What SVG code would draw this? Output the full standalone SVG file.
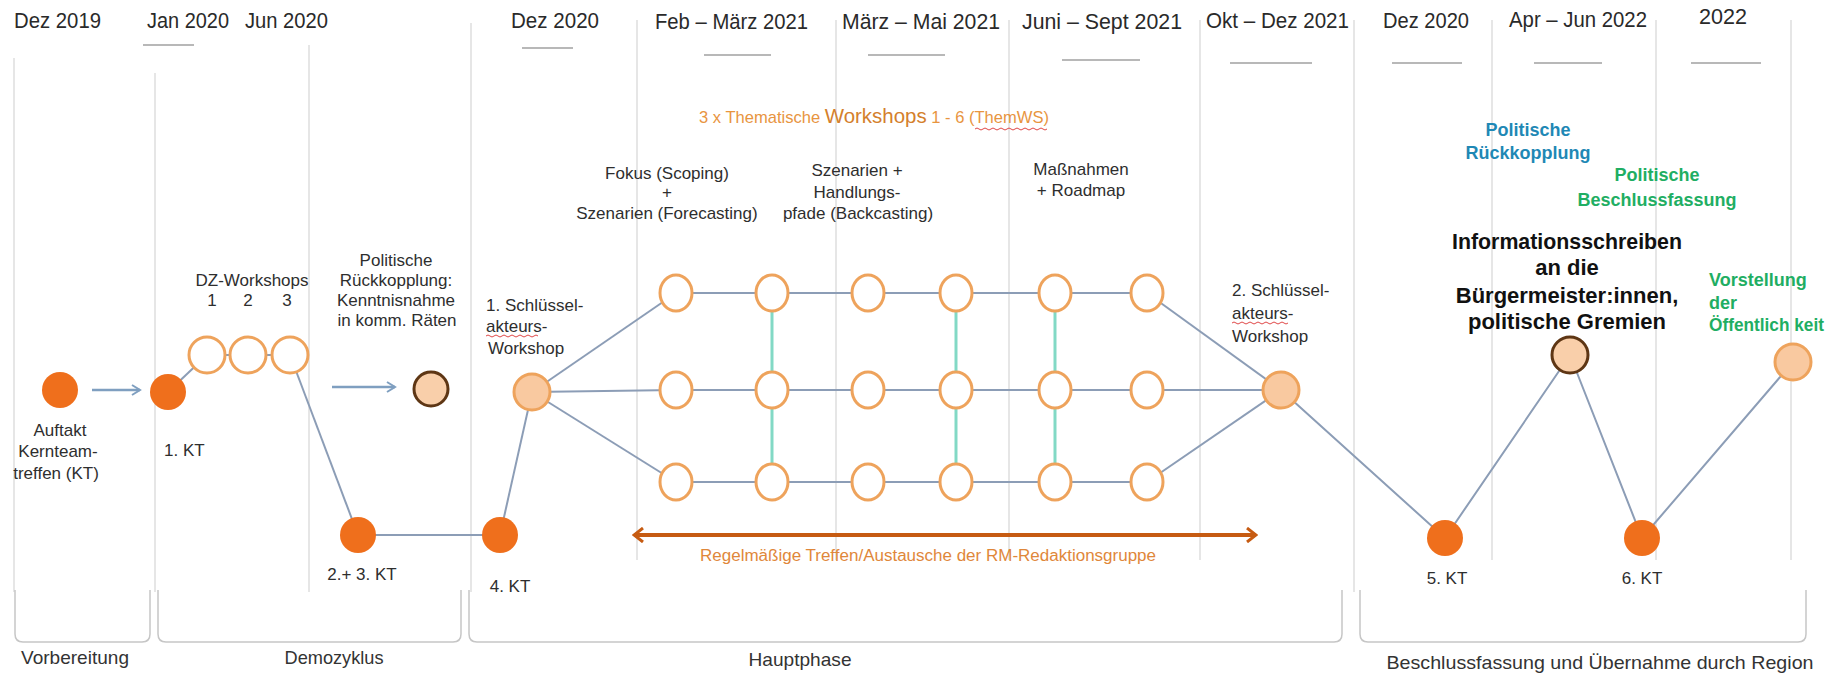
<svg xmlns="http://www.w3.org/2000/svg" width="1831" height="673" viewBox="0 0 1831 673">
  <defs>
    <style>
      text { font-family: "Liberation Sans", Arial, sans-serif; fill: #2e2e2e; }
      .hdr { font-size: 22px; fill: #2a2a2a; }
      .lbl { font-size: 17px; }
      .phase { font-size: 19px; fill: #333; }
      .grid { stroke: #dedede; stroke-width: 1.5; fill: none; }
      .dash { stroke: #b8b8b8; stroke-width: 2; }
      .brk { stroke: #c6c6c6; stroke-width: 1.5; fill: none; }
      .conn { stroke: #8c9db6; stroke-width: 2; fill: none; }
      .arrow { stroke: #7f9fc0; stroke-width: 2.5; fill: none; }
      .link { stroke: #82d9c5; stroke-width: 3; }
      .kt { fill: #ef6f1c; }
      .ws { fill: #ffffff; stroke: #eea35c; stroke-width: 3; }
      .key { fill: #f9c9a0; stroke: #eea35c; stroke-width: 3; }
      .pol { fill: #f9cfaa; stroke: #5e3614; stroke-width: 3; }
      .squiggle { stroke: #e04848; stroke-width: 1; fill: none; }
      .orange-s { fill: #e8953f; font-size: 17px; }
      .orange-l { fill: #d4802c; font-size: 21px; }
      .redak { fill: #df873a; font-size: 16px; }
      .blue { fill: #1f88b5; font-weight: bold; font-size: 18px; }
      .green { fill: #1fae63; font-weight: bold; font-size: 18px; }
      .info { fill: #111; font-weight: bold; font-size: 22px; }
    </style>
    <marker id="open-head" viewBox="0 0 12 12" refX="10" refY="6" markerWidth="12" markerHeight="12" markerUnits="userSpaceOnUse" orient="auto">
      <path d="M2,1 L10,6 L2,11" fill="none" stroke="#7f9fc0" stroke-width="2"/>
    </marker>
    <marker id="orange-head" viewBox="0 0 14 16" refX="12" refY="8" markerWidth="14" markerHeight="16" markerUnits="userSpaceOnUse" orient="auto-start-reverse">
      <path d="M3,1 L12,8 L3,15" fill="none" stroke="#c65b12" stroke-width="3"/>
    </marker>
  </defs>

  <rect width="1831" height="673" fill="#ffffff"/>

  <!-- timeline grid -->
  <g id="grid">
    <line class="grid" x1="14" y1="58" x2="14" y2="592"/>
    <line class="grid" x1="155" y1="73" x2="155" y2="592"/>
    <line class="grid" x1="309" y1="45" x2="309" y2="592"/>
    <line class="grid" x1="471" y1="23" x2="471" y2="592"/>
    <line class="grid" x1="637" y1="20" x2="637" y2="560"/>
    <line class="grid" x1="836" y1="20" x2="836" y2="560"/>
    <line class="grid" x1="1009" y1="20" x2="1009" y2="560"/>
    <line class="grid" x1="1200" y1="20" x2="1200" y2="560"/>
    <line class="grid" x1="1354" y1="20" x2="1354" y2="592"/>
    <line class="grid" x1="1492" y1="20" x2="1492" y2="560"/>
    <line class="grid" x1="1656" y1="20" x2="1656" y2="560"/>
    <line class="grid" x1="1791" y1="20" x2="1791" y2="560"/>

    <line class="dash" x1="143" y1="45" x2="194" y2="45"/>
    <line class="dash" x1="522" y1="48" x2="573" y2="48"/>
    <line class="dash" x1="704" y1="55" x2="771" y2="55"/>
    <line class="dash" x1="868" y1="55" x2="945" y2="55"/>
    <line class="dash" x1="1062" y1="60" x2="1140" y2="60"/>
    <line class="dash" x1="1230" y1="63" x2="1312" y2="63"/>
    <line class="dash" x1="1392" y1="63" x2="1462" y2="63"/>
    <line class="dash" x1="1534" y1="63" x2="1602" y2="63"/>
    <line class="dash" x1="1691" y1="63" x2="1761" y2="63"/>
  </g>

  <!-- date headings -->
  <g id="dates">
    <text class="hdr" x="14" y="28" textLength="87" lengthAdjust="spacingAndGlyphs">Dez 2019</text>
    <text class="hdr" x="147" y="28" textLength="82" lengthAdjust="spacingAndGlyphs">Jan 2020</text>
    <text class="hdr" x="245" y="28" textLength="83" lengthAdjust="spacingAndGlyphs">Jun 2020</text>
    <text class="hdr" x="511" y="28" textLength="88" lengthAdjust="spacingAndGlyphs">Dez 2020</text>
    <text class="hdr" x="655" y="29" textLength="153" lengthAdjust="spacingAndGlyphs">Feb – März 2021</text>
    <text class="hdr" x="842" y="29" textLength="158" lengthAdjust="spacingAndGlyphs">März – Mai 2021</text>
    <text class="hdr" x="1022" y="29" textLength="160" lengthAdjust="spacingAndGlyphs">Juni – Sept 2021</text>
    <text class="hdr" x="1206" y="28" textLength="143" lengthAdjust="spacingAndGlyphs">Okt – Dez 2021</text>
    <text class="hdr" x="1383" y="28" textLength="86" lengthAdjust="spacingAndGlyphs">Dez 2020</text>
    <text class="hdr" x="1509" y="27" textLength="138" lengthAdjust="spacingAndGlyphs">Apr – Jun 2022</text>
    <text class="hdr" x="1699" y="24" textLength="48" lengthAdjust="spacingAndGlyphs">2022</text>
  </g>

  <!-- phase brackets -->
  <g id="phases">
    <path class="brk" d="M15,590 V634 Q15,642 23,642 H142 Q150,642 150,634 V590"/>
    <path class="brk" d="M158,590 V634 Q158,642 166,642 H453 Q461,642 461,634 V590"/>
    <path class="brk" d="M469,590 V634 Q469,642 477,642 H1334 Q1342,642 1342,634 V590"/>
    <path class="brk" d="M1360,590 V634 Q1360,642 1368,642 H1798 Q1806,642 1806,634 V590"/>
    <text class="phase" x="75" y="664" text-anchor="middle" textLength="108" lengthAdjust="spacingAndGlyphs">Vorbereitung</text>
    <text class="phase" x="334" y="664" text-anchor="middle" textLength="99" lengthAdjust="spacingAndGlyphs">Demozyklus</text>
    <text class="phase" x="800" y="666" text-anchor="middle" textLength="103" lengthAdjust="spacingAndGlyphs">Hauptphase</text>
    <text class="phase" x="1600" y="669" text-anchor="middle" textLength="427" lengthAdjust="spacingAndGlyphs">Beschlussfassung und Übernahme durch Region</text>
  </g>

  <!-- connectors -->
  <g id="connectors">
    <line class="arrow" x1="92" y1="390" x2="140" y2="390" marker-end="url(#open-head)"/>
    <line class="arrow" x1="332" y1="387" x2="395" y2="387" marker-end="url(#open-head)"/>

    <line class="conn" x1="168" y1="392" x2="207" y2="355"/>
    <line class="conn" x1="207" y1="355" x2="290" y2="355"/>
    <line class="conn" x1="290" y1="355" x2="358" y2="535"/>
    <line class="conn" x1="358" y1="535" x2="500" y2="535"/>
    <line class="conn" x1="500" y1="535" x2="532" y2="392"/>
    <line class="conn" x1="532" y1="392" x2="676" y2="293"/>
    <line class="conn" x1="532" y1="392" x2="676" y2="390"/>
    <line class="conn" x1="532" y1="392" x2="676" y2="482"/>
    <line class="conn" x1="676" y1="293" x2="1147" y2="293"/>
    <line class="conn" x1="676" y1="390" x2="1147" y2="390"/>
    <line class="conn" x1="676" y1="482" x2="1147" y2="482"/>
    <line class="conn" x1="1147" y1="293" x2="1281" y2="390"/>
    <line class="conn" x1="1147" y1="390" x2="1281" y2="390"/>
    <line class="conn" x1="1147" y1="482" x2="1281" y2="390"/>
    <polyline class="conn" points="1281,390 1445,538 1570,355 1642,538 1793,362"/>

    <line class="link" x1="772" y1="293" x2="772" y2="482"/>
    <line class="link" x1="956" y1="293" x2="956" y2="482"/>
    <line class="link" x1="1055" y1="293" x2="1055" y2="482"/>

    <line x1="634" y1="535" x2="1256" y2="535" stroke="#c65b12" stroke-width="4" marker-start="url(#orange-head)" marker-end="url(#orange-head)"/>
  </g>

  <!-- core team meetings -->
  <g id="kt-auftakt">
    <circle class="kt" cx="60" cy="390" r="18"/>
    <text class="lbl" x="60" y="436" text-anchor="middle">Auftakt</text>
    <text class="lbl" x="58" y="457" text-anchor="middle">Kernteam-</text>
    <text class="lbl" x="56" y="479" text-anchor="middle">treffen (KT)</text>
  </g>
  <g id="kt-1">
    <circle class="kt" cx="168" cy="392" r="18"/>
    <text class="lbl" x="164" y="456">1. KT</text>
  </g>
  <g id="kt-2-3">
    <circle class="kt" cx="358" cy="535" r="18"/>
    <text class="lbl" x="362" y="580" text-anchor="middle">2.+ 3. KT</text>
  </g>
  <g id="kt-4">
    <circle class="kt" cx="500" cy="535" r="18"/>
    <text class="lbl" x="510" y="592" text-anchor="middle">4. KT</text>
  </g>
  <g id="kt-5">
    <circle class="kt" cx="1445" cy="538" r="18"/>
    <text class="lbl" x="1447" y="584" text-anchor="middle">5. KT</text>
  </g>
  <g id="kt-6">
    <circle class="kt" cx="1642" cy="538" r="18"/>
    <text class="lbl" x="1642" y="584" text-anchor="middle">6. KT</text>
  </g>

  <!-- demo cycle workshops -->
  <g id="dz-workshops">
    <ellipse class="ws" cx="207" cy="355" rx="18" ry="18"/>
    <ellipse class="ws" cx="248" cy="355" rx="18" ry="18"/>
    <ellipse class="ws" cx="290" cy="355" rx="18" ry="18"/>
    <text class="lbl" x="252" y="286" text-anchor="middle">DZ-Workshops</text>
    <text class="lbl" x="212" y="306" text-anchor="middle">1</text>
    <text class="lbl" x="248" y="306" text-anchor="middle">2</text>
    <text class="lbl" x="287" y="306" text-anchor="middle">3</text>
  </g>

  <g id="feedback-1">
    <circle class="pol" cx="431" cy="389" r="17"/>
    <text class="lbl" x="396" y="266" text-anchor="middle">Politische</text>
    <text class="lbl" x="396" y="286" text-anchor="middle">Rückkopplung:</text>
    <text class="lbl" x="396" y="306" text-anchor="middle">Kenntnisnahme</text>
    <text class="lbl" x="397" y="326" text-anchor="middle">in komm. Räten</text>
  </g>

  <g id="key-workshop-1">
    <circle class="key" cx="532" cy="392" r="18"/>
    <text class="lbl" x="486" y="311">1. Schlüssel-</text>
    <text class="lbl" x="486" y="332">akteurs-</text>
    <path class="squiggle" d="M486,336 q2,-2 4,0 t4,0 t4,0 t4,0 t4,0 t4,0 t4,0 t4,0 t4,0 t4,0 t4,0 t4,0 t4,0"/>
    <text class="lbl" x="488" y="354">Workshop</text>
  </g>

  <!-- thematic workshops -->
  <g id="themws">
    <text x="699" y="123" textLength="350" lengthAdjust="spacingAndGlyphs"><tspan class="orange-s">3 x Thematische </tspan><tspan class="orange-l">Workshops</tspan><tspan class="orange-s"> 1 - 6 (ThemWS)</tspan></text>
    <path class="squiggle" d="M975,129 q2,-2 4,0 t4,0 t4,0 t4,0 t4,0 t4,0 t4,0 t4,0 t4,0 t4,0 t4,0 t4,0 t4,0 t4,0 t4,0 t4,0 t4,0 t4,0"/>
    <text class="lbl" x="667" y="179" text-anchor="middle">Fokus (Scoping)</text>
    <text class="lbl" x="667" y="198" text-anchor="middle">+</text>
    <text class="lbl" x="667" y="219" text-anchor="middle">Szenarien (Forecasting)</text>
    <text class="lbl" x="857" y="176" text-anchor="middle">Szenarien +</text>
    <text class="lbl" x="857" y="198" text-anchor="middle">Handlungs-</text>
    <text class="lbl" x="858" y="219" text-anchor="middle">pfade (Backcasting)</text>
    <text class="lbl" x="1081" y="175" text-anchor="middle">Maßnahmen</text>
    <text class="lbl" x="1081" y="196" text-anchor="middle">+ Roadmap</text>
  </g>

  <g id="themws-row-1">
    <ellipse class="ws" cx="676" cy="293" rx="16" ry="18"/>
    <ellipse class="ws" cx="772" cy="293" rx="16" ry="18"/>
    <ellipse class="ws" cx="868" cy="293" rx="16" ry="18"/>
    <ellipse class="ws" cx="956" cy="293" rx="16" ry="18"/>
    <ellipse class="ws" cx="1055" cy="293" rx="16" ry="18"/>
    <ellipse class="ws" cx="1147" cy="293" rx="16" ry="18"/>
  </g>
  <g id="themws-row-2">
    <ellipse class="ws" cx="676" cy="390" rx="16" ry="18"/>
    <ellipse class="ws" cx="772" cy="390" rx="16" ry="18"/>
    <ellipse class="ws" cx="868" cy="390" rx="16" ry="18"/>
    <ellipse class="ws" cx="956" cy="390" rx="16" ry="18"/>
    <ellipse class="ws" cx="1055" cy="390" rx="16" ry="18"/>
    <ellipse class="ws" cx="1147" cy="390" rx="16" ry="18"/>
  </g>
  <g id="themws-row-3">
    <ellipse class="ws" cx="676" cy="482" rx="16" ry="18"/>
    <ellipse class="ws" cx="772" cy="482" rx="16" ry="18"/>
    <ellipse class="ws" cx="868" cy="482" rx="16" ry="18"/>
    <ellipse class="ws" cx="956" cy="482" rx="16" ry="18"/>
    <ellipse class="ws" cx="1055" cy="482" rx="16" ry="18"/>
    <ellipse class="ws" cx="1147" cy="482" rx="16" ry="18"/>
  </g>

  <g id="redaktion">
    <text class="redak" x="928" y="561" text-anchor="middle" textLength="456" lengthAdjust="spacingAndGlyphs">Regelmäßige Treffen/Austausche der RM-Redaktionsgruppe</text>
  </g>

  <g id="key-workshop-2">
    <circle class="key" cx="1281" cy="390" r="18"/>
    <text class="lbl" x="1232" y="296">2. Schlüssel-</text>
    <text class="lbl" x="1232" y="319">akteurs-</text>
    <path class="squiggle" d="M1232,323 q2,-2 4,0 t4,0 t4,0 t4,0 t4,0 t4,0 t4,0 t4,0 t4,0 t4,0 t4,0 t4,0 t4,0 t4,0"/>
    <text class="lbl" x="1232" y="342">Workshop</text>
  </g>

  <!-- decision phase -->
  <g id="feedback-2">
    <text class="blue" x="1528" y="136" text-anchor="middle">Politische</text>
    <text class="blue" x="1528" y="159" text-anchor="middle">Rückkopplung</text>
  </g>
  <g id="decision">
    <text class="green" x="1657" y="181" text-anchor="middle">Politische</text>
    <text class="green" x="1657" y="206" text-anchor="middle">Beschlussfassung</text>
  </g>
  <g id="info-letter">
    <circle class="pol" cx="1570" cy="355" r="18"/>
    <text class="info" x="1567" y="249" text-anchor="middle" textLength="230" lengthAdjust="spacingAndGlyphs">Informationsschreiben</text>
    <text class="info" x="1567" y="275" text-anchor="middle">an die</text>
    <text class="info" x="1567" y="303" text-anchor="middle">Bürgermeister:innen,</text>
    <text class="info" x="1567" y="329" text-anchor="middle">politische Gremien</text>
  </g>
  <g id="public">
    <circle class="key" cx="1793" cy="362" r="18"/>
    <text class="green" x="1709" y="286">Vorstellung</text>
    <text class="green" x="1709" y="309"> der</text>
    <text class="green" x="1709" y="331" textLength="115" lengthAdjust="spacingAndGlyphs">Öffentlich keit</text>
  </g>
</svg>
